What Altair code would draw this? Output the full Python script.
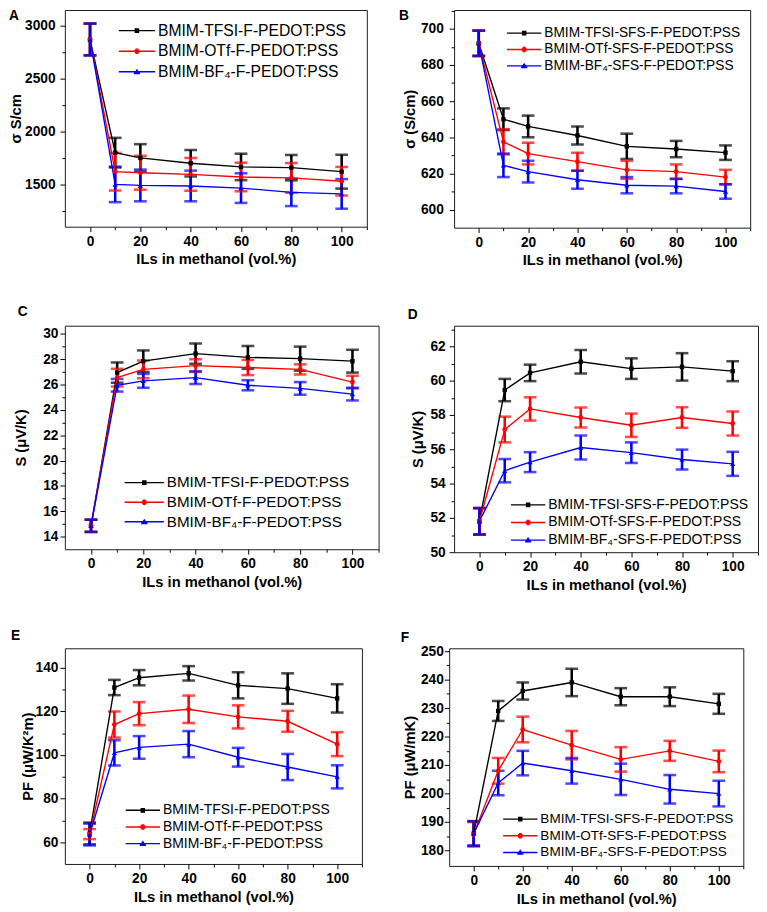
import altair as alt
import pandas as pd

FONT = "Liberation Sans"
X_VALUES = [0, 10, 20, 40, 60, 80, 100]
X_MAJOR = [0, 20, 40, 60, 80, 100]
X_MINOR = [10, 30, 50, 70, 90, 110]
COLORS = ["#000000", "#ff0000", "#0000ff"]
X_TITLE = "ILs in methanol (vol.%)"

LABELS_F = ["BMIM-TFSI-F-PEDOT:PSS", "BMIM-OTf-F-PEDOT:PSS", "BMIM-BF₄-F-PEDOT:PSS"]
LABELS_SFS = ["BMIM-TFSI-SFS-F-PEDOT:PSS", "BMIM-OTf-SFS-F-PEDOT:PSS", "BMIM-BF₄-SFS-F-PEDOT:PSS"]

# Panel A: sigma (S/cm), F-PEDOT:PSS
A_TFSI = [2870, 1800, 1750, 1700, 1665, 1658, 1620]
A_TFSI_ERR = [150, 140, 130, 125, 125, 120, 160]
A_OTF = [2870, 1620, 1610, 1595, 1570, 1562, 1530]
A_OTF_ERR = [150, 178, 160, 155, 135, 140, 135]
A_BF4 = [2870, 1500, 1490, 1485, 1465, 1425, 1410]
A_BF4_ERR = [150, 168, 150, 145, 140, 130, 140]

# Panel B: sigma (S/cm), SFS-F-PEDOT:PSS
B_TFSI = [692, 650, 646, 641, 635, 633.5, 631.5]
B_TFSI_ERR = [7, 6, 6, 5, 7, 4.5, 4]
B_OTF = [692, 637.5, 631, 626.5, 622, 621, 618]
B_OTF_ERR = [7, 7, 6, 5, 5, 4, 4]
B_BF4 = [692, 624.5, 621, 616.5, 613.5, 613, 610]
B_BF4_ERR = [7, 6.5, 6, 5, 4.5, 4, 4]

# Panel C: S (uV/K), F-PEDOT:PSS
C_TFSI = [14.85, 26.95, 27.85, 28.45, 28.15, 28.05, 27.85]
C_TFSI_ERR = [0.48, 0.8, 0.85, 0.8, 0.9, 0.95, 0.9]
C_OTF = [14.85, 26.55, 27.2, 27.5, 27.35, 27.2, 26.2]
C_OTF_ERR = [0.48, 0.7, 0.7, 0.5, 0.6, 0.4, 0.5]
C_BF4 = [14.85, 25.95, 26.3, 26.55, 25.95, 25.7, 25.25]
C_BF4_ERR = [0.48, 0.5, 0.55, 0.5, 0.4, 0.5, 0.5]

# Panel D: S (uV/K), SFS-F-PEDOT:PSS
D_TFSI = [51.8, 59.45, 60.45, 61.1, 60.7, 60.8, 60.55]
D_TFSI_ERR = [0.77, 0.65, 0.48, 0.68, 0.6, 0.8, 0.58]
D_OTF = [51.8, 57.15, 58.35, 57.85, 57.4, 57.85, 57.5]
D_OTF_ERR = [0.77, 0.75, 0.68, 0.58, 0.68, 0.6, 0.7]
D_BF4 = [51.8, 54.75, 55.25, 56.1, 55.8, 55.4, 55.15]
D_BF4_ERR = [0.77, 0.68, 0.58, 0.7, 0.6, 0.58, 0.7]

# Panel E: PF (uW/K^2 m), F-PEDOT:PSS
E_TFSI = [64, 131, 135.5, 137.5, 132, 130.5, 126]
E_TFSI_ERR = [5, 3.5, 3.5, 3.3, 6, 7, 6.5]
E_OTF = [63.7, 114, 119, 121, 117.5, 115.5, 105]
E_OTF_ERR = [2.3, 6, 5.3, 6.3, 5.3, 4.8, 5.5]
E_BF4 = [63.5, 101, 103.5, 105, 99, 94.5, 90]
E_BF4_ERR = [5, 5.8, 5.2, 6, 4.3, 6, 5.3]

# Panel F: PF (uW/mK), SFS-F-PEDOT:PSS
F_TFSI = [186, 229, 236, 239, 234, 234, 231.5]
F_TFSI_ERR = [4.3, 3.5, 3, 4.8, 3, 3.3, 3.5]
F_OTF = [185.7, 208, 222.5, 217, 212, 215, 211.3]
F_OTF_ERR = [4.3, 4.5, 4.5, 5, 4.3, 3.5, 3.8]
F_BF4 = [186, 203.7, 210.7, 208, 205, 201.5, 200]
F_BF4_ERR = [4.3, 4.3, 4.3, 4.5, 5.5, 5, 4.5]


def legend_paths(length):
    """Legend glyphs: a horizontal line with a marker drawn as stroked hatching."""
    half = length / 2.0

    def hatch(rows_px):
        s = "M-1,0H1"
        for y, hw in rows_px:
            s += f"M{-hw / half:.4f},{y / half:.4f}H{hw / half:.4f}"
        return s

    square = hatch([(-1.7, 2.3), (-0.8, 2.3), (0.8, 2.3), (1.7, 2.3), (0, 2.3)])
    circle = hatch([(-2.1, 1.5), (-1.05, 2.35), (0, 2.6), (1.05, 2.35), (2.1, 1.5)])
    triangle = hatch([(-2.2, 0.5), (-1.2, 1.2), (-0.2, 1.9), (0.8, 2.6), (1.7, 3.2)])
    return [square, circle, triangle]


def panel(p):
    rows = []
    for s, lab in enumerate(p["labels"]):
        for xv, v, e in zip(X_VALUES, p["vals"][s], p["errs"][s]):
            rows.append({"x": xv, "y": v, "lo": v - e, "hi": v + e, "series": lab, "k": s})
    df = pd.DataFrame(rows)
    base = alt.Chart(df)
    xs = alt.Scale(domain=[-10, 110], nice=False, zero=False)
    ys = alt.Scale(domain=p["ydom"], nice=False, zero=False)
    L = p["leg_len"]
    lg = alt.Legend(orient="none", legendX=p["leg_x"], legendY=p["leg_y"], title=None,
                    labelFont=FONT, labelFontSize=p["leg_fs"], labelColor="#000",
                    labelLimit=500, symbolSize=L * L, symbolStrokeWidth=1.4,
                    symbolOpacity=1, clipHeight=p["leg_row"], rowPadding=p["leg_gap"],
                    labelOffset=2, padding=0)
    col = alt.Color("k:N", scale=alt.Scale(domain=[0, 1, 2], range=COLORS), legend=None)

    x_major = alt.Axis(values=X_MAJOR, format="d", title=X_TITLE, tickSize=5,
                       labelPadding=3, titlePadding=4, orient="bottom")
    x_minor = alt.Axis(values=X_MINOR, labels=False, title=None, tickSize=3, orient="bottom")
    y_major = alt.Axis(values=p["ymajor"], format="d", title=p["ytitle"], tickSize=5,
                       labelPadding=p["lpad"], titlePadding=p["tpad"], orient="left")
    y_minor = alt.Axis(values=p["yminor"], labels=False, title=None, tickSize=3, orient="left")

    bars = base.mark_rule(strokeWidth=2.6).encode(
        x=alt.X("x:Q", scale=xs, axis=x_minor),
        y=alt.Y("lo:Q", scale=ys, axis=y_minor),
        y2="hi:Q", color=col)
    cap_lo = base.mark_tick(orient="horizontal", size=13, thickness=2.6).encode(
        x=alt.X("x:Q", scale=xs, axis=None),
        y=alt.Y("lo:Q", scale=ys, axis=None), color=col)
    cap_hi = base.mark_tick(orient="horizontal", size=13, thickness=2.6).encode(
        x=alt.X("x:Q", scale=xs, axis=None),
        y=alt.Y("hi:Q", scale=ys, axis=None), color=col)
    line = base.mark_line(strokeWidth=1.4).encode(
        x=alt.X("x:Q", scale=xs, axis=x_major),
        y=alt.Y("y:Q", scale=ys, axis=y_major), color=col)
    pts = []
    for i, (sh, sz) in enumerate([("square", 20), ("circle", 24), ("triangle-up", 28)]):
        pts.append(base.transform_filter(alt.datum.k == i).mark_point(
            shape=sh, filled=True, size=sz, opacity=1).encode(
            x=alt.X("x:Q", scale=xs, axis=None),
            y=alt.Y("y:Q", scale=ys, axis=None), color=col))

    leg = base.mark_point(opacity=0).encode(
        x=alt.X("x:Q", scale=xs, axis=None), y=alt.Y("y:Q", scale=ys, axis=None),
        stroke=alt.Stroke("series:N", scale=alt.Scale(domain=p["labels"], range=COLORS), legend=lg),
        shape=alt.Shape("series:N", scale=alt.Scale(domain=p["labels"], range=legend_paths(L)), legend=lg))

    letter = alt.Chart(pd.DataFrame({"t": [p["letter"]]})).mark_text(
        align="left", baseline="top", font=FONT, fontSize=14, fontWeight="bold",
        color="#000").encode(text="t:N", x=alt.value(p["let_x"]), y=alt.value(p["let_y"]))

    return alt.layer(bars, cap_lo, cap_hi, line, *pts, leg, letter).resolve_axis(
        x="independent", y="independent").properties(width=p["w"], height=p["h"])


PANELS = {
    "A": dict(letter="A", labels=LABELS_F, vals=[A_TFSI, A_OTF, A_BF4], errs=[A_TFSI_ERR, A_OTF_ERR, A_BF4_ERR],
              ydom=[1100, 3148], ymajor=[1500, 2000, 2500, 3000], yminor=[1250, 1750, 2250, 2750],
              ytitle="σ S/cm", w=308, h=221, lpad=5, tpad=1, let_x=-57, let_y=-1,
              leg_x=54, leg_y=11.5, leg_row=19, leg_gap=2, leg_len=37, leg_fs=16),
    "B": dict(letter="B", labels=LABELS_SFS, vals=[B_TFSI, B_OTF, B_BF4], errs=[B_TFSI_ERR, B_OTF_ERR, B_BF4_ERR],
              ydom=[590, 710.4], ymajor=[600, 620, 640, 660, 680, 700], yminor=[610, 630, 650, 670, 690, 710],
              ytitle="σ (S/cm)", w=302, h=222, lpad=6, tpad=3, let_x=-56.3, let_y=-1,
              leg_x=53, leg_y=16, leg_row=15, leg_gap=1.7, leg_len=35, leg_fs=14),
    "C": dict(letter="C", labels=LABELS_F, vals=[C_TFSI, C_OTF, C_BF4], errs=[C_TFSI_ERR, C_OTF_ERR, C_BF4_ERR],
              ydom=[13, 30.65], ymajor=list(range(14, 31, 2)), yminor=list(range(15, 30, 2)),
              ytitle="S (μV/K)", w=320, h=228, lpad=2, tpad=15, let_x=-48, let_y=-21,
              leg_x=60, leg_y=151, leg_row=18, leg_gap=2, leg_len=40, leg_fs=15.5),
    "D": dict(letter="D", labels=LABELS_SFS, vals=[D_TFSI, D_OTF, D_BF4], errs=[D_TFSI_ERR, D_OTF_ERR, D_BF4_ERR],
              ydom=[50, 63.2], ymajor=list(range(50, 63, 2)), yminor=list(range(51, 64, 2)),
              ytitle="S (μV/K)", w=310, h=231, lpad=4, tpad=5, let_x=-47.3, let_y=-18,
              leg_x=57, leg_y=175, leg_row=15.5, leg_gap=2, leg_len=35, leg_fs=14.3),
    "E": dict(letter="E", labels=LABELS_F, vals=[E_TFSI, E_OTF, E_BF4], errs=[E_TFSI_ERR, E_OTF_ERR, E_BF4_ERR],
              ydom=[50, 149], ymajor=[60, 80, 100, 120, 140], yminor=[70, 90, 110, 130],
              ytitle="PF (μW/K²m)", w=303, h=220, lpad=2, tpad=0, let_x=-55, let_y=-19,
              leg_x=61, leg_y=158, leg_row=14.5, leg_gap=2, leg_len=35, leg_fs=14.2),
    "F": dict(letter="F", labels=LABELS_SFS, vals=[F_TFSI, F_OTF, F_BF4], errs=[F_TFSI_ERR, F_OTF_ERR, F_BF4_ERR],
              ydom=[174.6, 251], ymajor=list(range(180, 251, 10)), yminor=list(range(185, 250, 10)),
              ytitle="PF (μW/mK)", w=300, h=222, lpad=1, tpad=3, let_x=-49.3, let_y=-17.5,
              leg_x=54, leg_y=167, leg_row=14.5, leg_gap=2, leg_len=35, leg_fs=13.8),
}

IND = dict(color="independent", fill="independent", stroke="independent", shape="independent")


def row(a, b, spacing):
    return alt.hconcat(panel(PANELS[a]), panel(PANELS[b]), spacing=spacing, bounds="flush").resolve_scale(
        **IND).resolve_legend(**IND)


chart = alt.vconcat(
    row("A", "B", 89), row("C", "D", 77), row("E", "F", 89), spacing=36
).resolve_scale(**IND).resolve_legend(**IND).properties(
    padding={"left": 0, "top": -9, "right": 0, "bottom": 0}
).configure_view(
    stroke="#1a1a1a", strokeWidth=1
).configure_axis(
    labelFont=FONT, labelFontSize=14, labelFontWeight="bold", labelColor="#000",
    titleFont=FONT, titleFontSize=15, titleFontWeight="bold", titleColor="#000",
    tickColor="#000", tickWidth=1, domain=False, grid=False, labelFlush=False
)

chart.save("out.html", embed_options={"renderer": "svg", "actions": False})
